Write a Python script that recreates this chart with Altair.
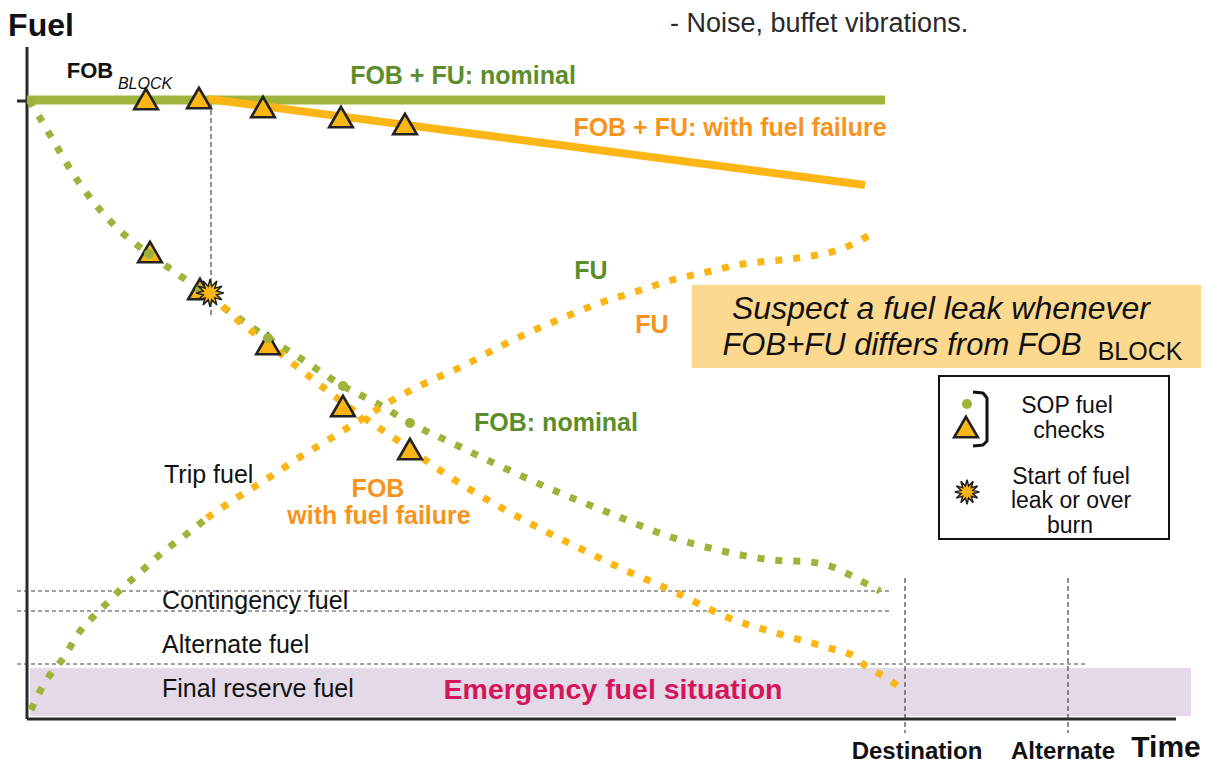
import math
import altair as alt
import pandas as pd

FONT = "Liberation Sans"

# ---------------- data (time, fuel) ----------------
# FOB + FU (solid lines)
fobfu_nom_t = [0, 858]
fobfu_nom_f = [619, 619]
fobfu_fail_t = [181, 838]
fobfu_fail_f = [620, 534]

# FOB nominal (dotted green)
fob_nom_t = [3, 6, 13, 23, 33, 45, 61, 87, 122, 148, 173, 203, 241, 273, 316, 353, 383,
             423, 473, 533, 585, 638, 691, 746, 783, 803, 821, 838, 853]
fob_nom_f = [619, 612, 601, 584, 567, 547, 524, 494, 465, 447, 429, 407, 381, 361, 333, 314, 296,
             277, 253, 226, 205, 184, 169, 159, 157, 153, 145, 136, 128]

# FOB with fuel failure (dotted orange)
fob_fail_t = [183, 208, 239, 283, 326, 373, 420, 466, 516, 550, 600, 650, 702, 756, 809, 825, 840, 858, 876]
fob_fail_f = [426, 401, 377, 342, 309, 277, 244, 216, 189, 172, 148, 126, 101, 84, 69, 64, 52, 42, 29]

# FU nominal (dotted green, early part)
fu_nom_t = [4, 12, 23, 35, 54, 66, 81, 93, 108, 135, 165, 180]
fu_nom_f = [9, 26, 44, 59, 89, 102, 117, 129, 142, 166, 189, 201]

# FU with fuel failure (dotted orange)
fu_fail_t = [180, 211, 243, 273, 306, 338, 371, 405, 438, 470, 503, 538, 573, 608, 645, 680,
             716, 753, 790, 808, 826, 846]
fu_fail_f = [201, 222, 242, 262, 282, 302, 322, 339, 354, 371, 387, 402, 416, 427, 439, 447,
             455, 459, 464, 468, 475, 486]

# SOP fuel checks
tri_t = [119, 172, 236, 314, 378, 123, 173, 241, 316, 383, 939]
tri_f = [620, 621, 612, 602, 595, 467, 430, 375, 313, 270, 292]
dot_t = [122, 173, 241, 316, 383, 940]
dot_f = [465, 429, 381, 333, 296, 315]
star_t = [183, 940]
star_f = [426, 227]
star_size = [760, 600]

# Reserve levels (dashed) and time markers
hdash_t = [-10, -10, -10]
hdash_t2 = [863, 863, 1060]
hdash_f = [128, 108, 55]
vdash_t = [878, 1041, 184]
vdash_f = [141, 141, 617]
vdash_f2 = [-14, -14, 401]

# axes
axis_t = [0, 0, -10]
axis_t2 = [0, 1149, 13]
axis_f = [0, 0, 618]
axis_f2 = [672, 0, 618]

# boxes
band = dict(t=[3], t2=[1164], f=[3], f2=[51])
ybox = dict(t=[665], t2=[1190], f=[351], f2=[434])
lbox = dict(t=[912], t2=[1142], f=[180], f2=[343])

# legend bracket
br_t = [946, 956, 960, 960, 956, 946]
br_f = [327, 326, 321, 278, 274, 273]

# ---------------- scales ----------------
XS = alt.Scale(domain=[-19, 1174], nice=False, zero=False)
YS = alt.Scale(domain=[-46, 711], nice=False, zero=False)


def X(f="t"):
    return alt.X(f"{f}:Q", scale=XS, axis=None)


def Y(f="f"):
    return alt.Y(f"{f}:Q", scale=YS, axis=None)


def df(t, f):
    return pd.DataFrame({"t": t, "f": f})


layers = []

# purple emergency band
layers.append(alt.Chart(pd.DataFrame(band)).mark_rect(color="#e3d9e7").encode(
    x=X(), x2="t2:Q", y=Y(), y2="f2:Q"))

# dashed rules
layers.append(alt.Chart(pd.DataFrame({"t": hdash_t, "t2": hdash_t2, "f": hdash_f})).mark_rule(
    color="#444", strokeWidth=1.2, strokeDash=[4, 3]).encode(x=X(), x2="t2:Q", y=Y()))
layers.append(alt.Chart(pd.DataFrame({"t": vdash_t, "f": vdash_f, "f2": vdash_f2})).mark_rule(
    color="#444", strokeWidth=1.2, strokeDash=[5, 3]).encode(x=X(), y=Y(), y2="f2:Q"))

# axes
layers.append(alt.Chart(pd.DataFrame({"t": axis_t, "t2": axis_t2, "f": axis_f, "f2": axis_f2})).mark_rule(
    color="#2b2b2b", strokeWidth=3).encode(x=X(), x2="t2:Q", y=Y(), y2="f2:Q"))

# yellow box
layers.append(alt.Chart(pd.DataFrame(ybox)).mark_rect(color="#fdd98f").encode(
    x=X(), x2="t2:Q", y=Y(), y2="f2:Q"))
# legend box
layers.append(alt.Chart(pd.DataFrame(lbox)).mark_rect(fill="white", stroke="#111", strokeWidth=2).encode(
    x=X(), x2="t2:Q", y=Y(), y2="f2:Q"))

# solid FOB+FU lines
layers.append(alt.Chart(df(fobfu_nom_t, fobfu_nom_f)).mark_line(
    color="#a0b53b", strokeWidth=9, strokeCap="butt").encode(x=X(), y=Y()))
layers.append(alt.Chart(df(fobfu_fail_t, fobfu_fail_f)).mark_line(
    color="#fbb615", strokeWidth=8, strokeCap="butt").encode(x=X(), y=Y()))

# dotted curves
DOT = dict(strokeWidth=7, strokeDash=[7, 11], strokeCap="butt", interpolate="monotone")
layers.append(alt.Chart(df(fob_nom_t, fob_nom_f)).mark_line(color="#9db43a", **DOT).encode(x=X(), y=Y()))
layers.append(alt.Chart(df(fob_fail_t, fob_fail_f)).mark_line(color="#fbb615", **DOT).encode(x=X(), y=Y()))
layers.append(alt.Chart(df(fu_nom_t, fu_nom_f)).mark_line(color="#9db43a", **DOT).encode(x=X(), y=Y()))
layers.append(alt.Chart(df(fu_fail_t, fu_fail_f)).mark_line(color="#fbb615", **DOT).encode(x=X(), y=Y()))

# markers
layers.append(alt.Chart(df(tri_t, tri_f)).mark_point(
    shape="triangle-up", size=560, filled=True, fill="#fbb615", stroke="#222", strokeWidth=2.6,
    opacity=1).encode(x=X(), y=Y()))
layers.append(alt.Chart(df(dot_t, dot_f)).mark_circle(size=100, color="#9db43a", opacity=1).encode(
    x=X(), y=Y()))

# star burst shape
pts = []
n = 12
for i in range(2 * n):
    r = 1.0 if i % 2 == 0 else 0.5
    a = math.pi * i / n - math.pi / 2
    pts.append(f"{r * math.cos(a):.3f},{r * math.sin(a):.3f}")
STAR = "M" + "L".join(pts) + "Z"
layers.append(alt.Chart(pd.DataFrame({"t": star_t, "f": star_f, "s": star_size})).mark_point(
    shape=STAR, filled=True, fill="#fbb615", stroke="#222", strokeWidth=1.5, opacity=1).encode(
    x=X(), y=Y(), size=alt.Size("s:Q", scale=None, legend=None)))

# bracket
layers.append(alt.Chart(pd.DataFrame({"t": br_t, "f": br_f, "i": list(range(len(br_t)))})).mark_line(
    color="#111", strokeWidth=3, strokeJoin="round").encode(x=X(), y=Y(), order="i:Q"))


# ---------------- texts ----------------
def txt(labels, t, f, size, color="#111", weight="normal", style="normal", align="center"):
    d = pd.DataFrame({"label": labels, "t": t, "f": f})
    return alt.Chart(d).mark_text(font=FONT, fontSize=size, color=color, fontWeight=weight,
                                  fontStyle=style, align=align, baseline="middle").encode(
        x=X(), y=Y(), text="label:N")


GREEN_T = "#5b8e2b"
ORANGE_T = "#f7941d"

layers.append(txt(["Fuel"], [14], [693], 32, weight="bold"))
layers.append(txt(["Time"], [1139], [-29], 30, weight="bold"))
layers.append(txt(["Destination", "Alternate"], [890, 1036], [-33, -33], 24, weight="bold"))
layers.append(txt(["FOB"], [63], [648], 22, weight="bold"))
layers.append(txt(["BLOCK"], [118], [635], 16, style="italic"))
layers.append(txt(["FOB + FU: nominal", "FU", "FOB: nominal"], [436, 564, 529], [643, 448, 296], 25,
                  color=GREEN_T, weight="bold"))
layers.append(txt(["FOB + FU: with fuel failure", "FU", "FOB", "with fuel failure"],
                  [703, 625, 351, 352], [591, 394, 230, 203], 25, color=ORANGE_T, weight="bold"))
layers.append(txt(["Trip fuel", "Contingency fuel", "Alternate fuel", "Final reserve fuel"],
                  [137, 135, 135, 135], [244, 118, 74, 30], 25, align="left"))
layers.append(txt(["Emergency fuel situation"], [586], [29], 28.5, color="#d6145b", weight="bold"))
layers.append(txt(["Suspect a fuel leak whenever"], [914], [410], 32, style="italic"))
layers.append(txt(["FOB+FU differs from FOB"], [875], [373], 31, style="italic"))
layers.append(txt(["BLOCK"], [1113], [367], 25))
layers.append(txt(["SOP fuel", "checks", "Start of fuel", "leak or over", "burn"],
                  [1040, 1042, 1044, 1044, 1043], [313, 288, 242, 218, 193], 23))
layers.append(txt(["- Noise, buffet vibrations."], [643], [695], 27, color="#2a2a2a", align="left"))

chart = alt.layer(*layers).properties(
    width=1193, height=757, padding=0,
    autosize=alt.AutoSizeParams(type="none"),
).configure_view(stroke=None)

chart.save("out.html", embed_options={"renderer": "svg", "actions": False})
